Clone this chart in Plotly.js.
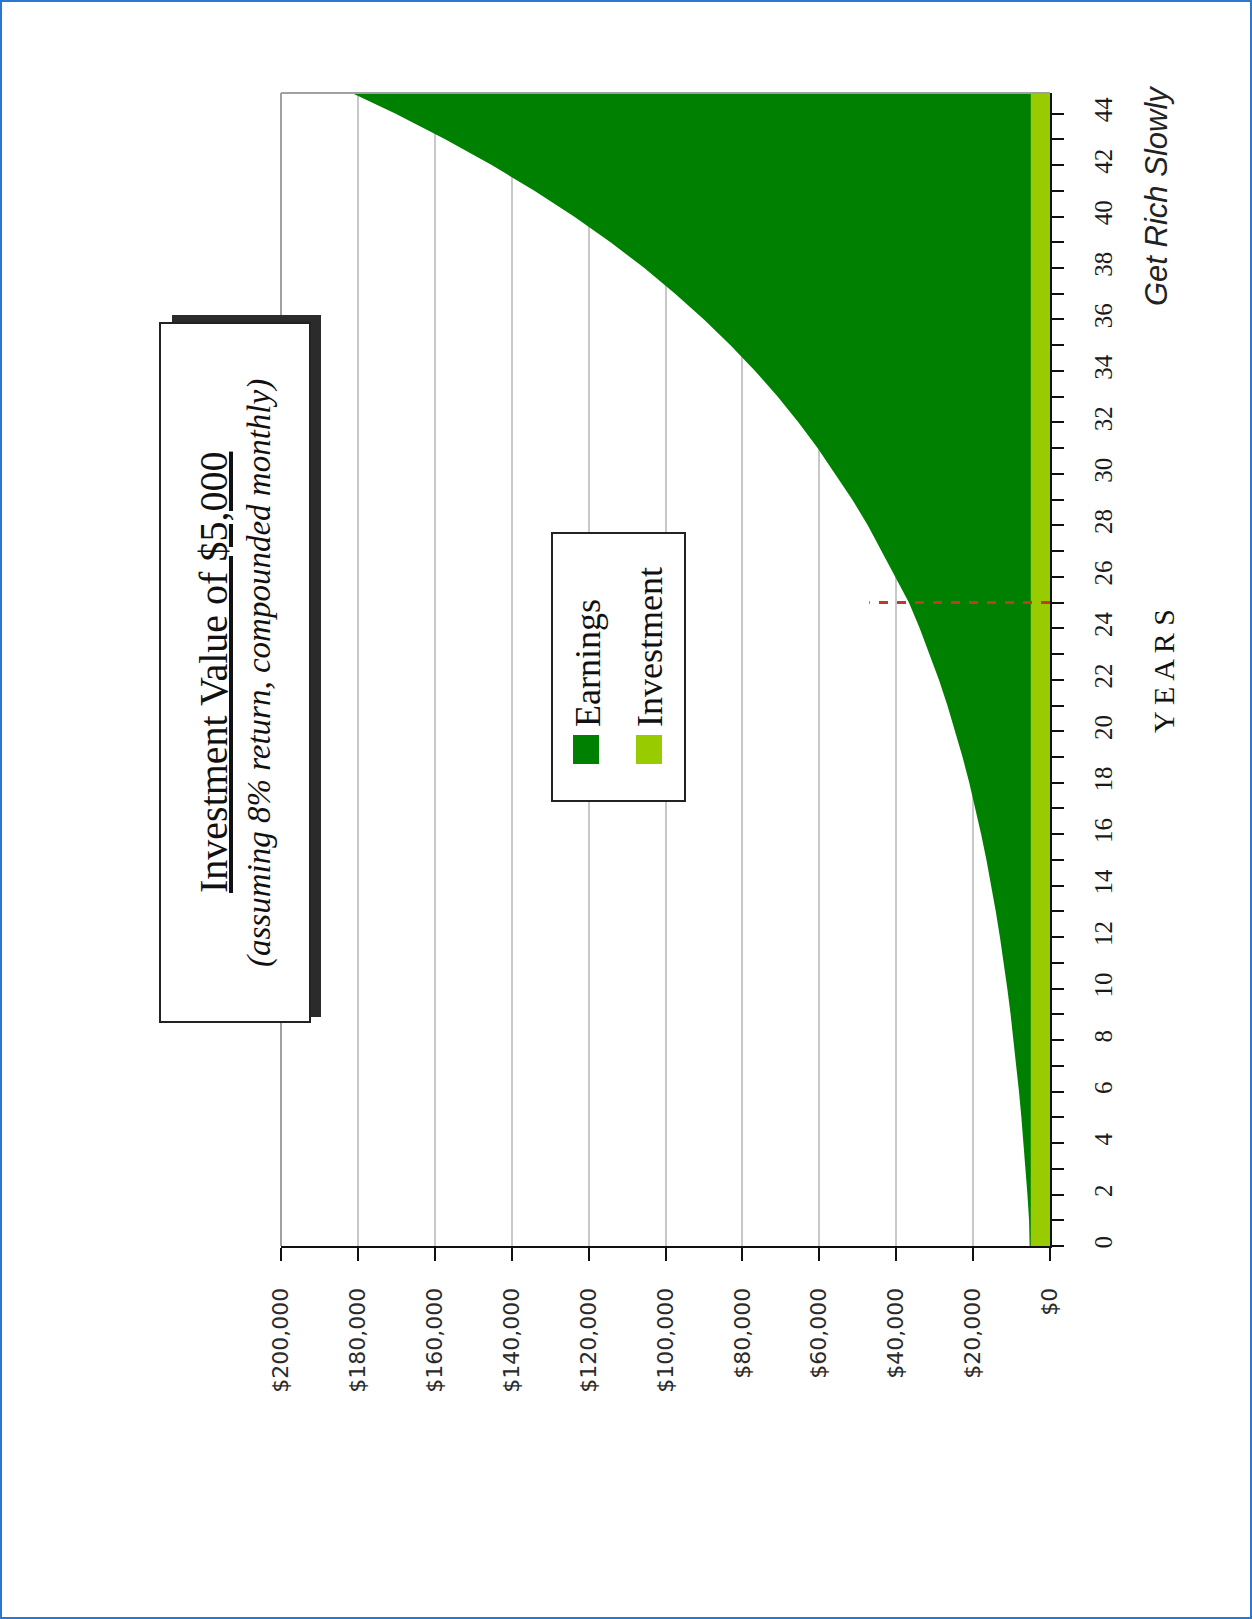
<!DOCTYPE html>
<html>
<head>
<meta charset="utf-8">
<script src="https://cdn.plot.ly/plotly-3.0.1.min.js"></script>
<style>
  html, body { margin: 0; padding: 0; background: #ffffff; }
  #chart { width: 1252px; height: 1619px; }
</style>
</head>
<body>
<div id="chart"></div>
<script>
// ---- data ----
const years = [0,1,2,3,4,5,6,7,8,9,10,11,12,13,14,15,16,17,18,19,20,21,22,23,24,25,26,27,28,29,30,31,32,33,34,35,36,37,38,39,40,41,42,43,44,45];
const totalValue = [5300,5450,5870,6350,6880,7450,8070,8740,9460,10250,11100,12020,13020,14100,15270,16530,17910,19390,21000,22750,24630,26680,28890,31290,33890,36700,40300,43700,47400,51400,55800,60400,65400,70800,76700,83100,90000,97500,105500,114300,123800,134100,145200,157300,170300,184400];
const investment = [5000,5000,5000,5000,5000,5000,5000,5000,5000,5000,5000,5000,5000,5000,5000,5000,5000,5000,5000,5000,5000,5000,5000,5000,5000,5000,5000,5000,5000,5000,5000,5000,5000,5000,5000,5000,5000,5000,5000,5000,5000,5000,5000,5000,5000,5000];
const seriesNames = ["Earnings", "Investment"];
const valueTicks = [0,20000,40000,60000,80000,100000,120000,140000,160000,180000,200000];
const valueTickLabels = ["$0","$20,000","$40,000","$60,000","$80,000","$100,000","$120,000","$140,000","$160,000","$180,000","$200,000"];
const yearTicks = [0,1,2,3,4,5,6,7,8,9,10,11,12,13,14,15,16,17,18,19,20,21,22,23,24,25,26,27,28,29,30,31,32,33,34,35,36,37,38,39,40,41,42,43,44];
const yearTickLabels = ["0","","2","","4","","6","","8","","10","","12","","14","","16","","18","","20","","22","","24","","26","","28","","30","","32","","34","","36","","38","","40","","42","","44"];
const markerYear = 25;
const markerValue = 47000;
const titleText = "Investment Value of $5,000";
const subtitleText = "(assuming 8% return, compounded monthly)";
const yearsTitle = "Y E A R S";
const creditText = "Get Rich Slowly";

// ---- layout helpers (pixel -> paper) ----
const W = 1252, H = 1619;
const L = 281, R = 1050, T = 93, B = 1246;
const px = X => (X - L) / (R - L);
const py = Y => (B - Y) / (B - T);

const colors = { earnings: "#008000", investment: "#99cc00" };

const traces = [
  { x: totalValue, y: years, name: seriesNames[0], type: "scatter", mode: "lines",
    line: { width: 0, color: colors.earnings }, fill: "tozerox", fillcolor: colors.earnings,
    showlegend: false, hoverinfo: "skip" },
  { x: investment, y: years, name: seriesNames[1], type: "scatter", mode: "lines",
    line: { width: 0, color: colors.investment }, fill: "tozerox", fillcolor: colors.investment,
    showlegend: false, hoverinfo: "skip" }
];

const shapes = [
  // plot border top/left (gray)
  { type: "line", xref: "paper", yref: "paper", x0: 0, x1: 1, y0: 1, y1: 1, line: { color: "#a0a0a0", width: 2 } },
  { type: "line", xref: "paper", yref: "paper", x0: 0, x1: 0, y0: 0, y1: 1, line: { color: "#a0a0a0", width: 2 } },
  // dashed marker
  { type: "line", xref: "x", yref: "y", x0: 0, x1: markerValue, y0: markerYear, y1: markerYear,
    line: { color: "#c0392b", width: 3, dash: "dash" } },
  // title box shadow + box
  { type: "rect", xref: "paper", yref: "paper", x0: px(172), x1: px(321), y0: py(1017), y1: py(315),
    fillcolor: "#2b2b2b", line: { width: 0 } },
  { type: "rect", xref: "paper", yref: "paper", x0: px(160), x1: px(310), y0: py(1022), y1: py(323),
    fillcolor: "#ffffff", line: { color: "#222222", width: 2 } },
  // legend box
  { type: "rect", xref: "paper", yref: "paper", x0: px(552), x1: px(685), y0: py(801), y1: py(533),
    fillcolor: "#ffffff", line: { color: "#222222", width: 2 } },
  { type: "rect", xref: "paper", yref: "paper", x0: px(573), x1: px(599), y0: py(764), y1: py(735),
    fillcolor: colors.earnings, line: { width: 0 } },
  { type: "rect", xref: "paper", yref: "paper", x0: px(636), x1: px(662), y0: py(764), y1: py(735),
    fillcolor: colors.investment, line: { width: 0 } },
  // outer blue frame
  { type: "rect", xref: "paper", yref: "paper", x0: px(1), x1: px(1251), y0: py(1618), y1: py(1),
    fillcolor: "rgba(0,0,0,0)", line: { color: "#2a78cf", width: 2 } }
];

const serif = "Liberation Serif, Times New Roman, serif";
const annotations = [
  { text: titleText, xref: "paper", yref: "paper", x: px(213), y: py(673), textangle: -90,
    showarrow: false, xanchor: "center", yanchor: "middle",
    font: { family: serif, size: 40, color: "#111111", lineposition: "under" } },
  { text: "<i>" + subtitleText + "</i>", xref: "paper", yref: "paper", x: px(259), y: py(673), textangle: -90,
    showarrow: false, xanchor: "center", yanchor: "middle",
    font: { family: serif, size: 33, color: "#111111" } },
  { text: seriesNames[0], xref: "paper", yref: "paper", x: px(588), y: py(729), textangle: -90,
    showarrow: false, xanchor: "center", yanchor: "bottom",
    font: { family: serif, size: 36, color: "#111111" } },
  { text: seriesNames[1], xref: "paper", yref: "paper", x: px(650), y: py(729), textangle: -90,
    showarrow: false, xanchor: "center", yanchor: "bottom",
    font: { family: serif, size: 36, color: "#111111" } },
  { text: yearsTitle, xref: "paper", yref: "paper", x: px(1163), y: py(671), textangle: -90,
    showarrow: false, xanchor: "center", yanchor: "middle",
    font: { family: serif, size: 30, color: "#111111" } },
  { text: "<i>" + creditText + "</i>", xref: "paper", yref: "paper", x: px(1156), y: py(196), textangle: -90,
    showarrow: false, xanchor: "center", yanchor: "middle",
    font: { family: "Liberation Sans, Arial, sans-serif", size: 31, color: "#222222" } }
];

const layout = {
  width: W, height: H,
  margin: { l: L, r: W - R, t: T, b: H - B, pad: 0 },
  paper_bgcolor: "#ffffff", plot_bgcolor: "#ffffff",
  showlegend: false,
  xaxis: {
    range: [200000, 0], autorange: false, fixedrange: true,
    tickmode: "array", tickvals: valueTicks, ticktext: valueTickLabels, tickangle: -90,
    ticks: "outside", ticklen: 13, tickwidth: 2, tickcolor: "#111111",
    ticklabelstandoff: 18,
    tickfont: { family: "DejaVu Sans, Verdana, sans-serif", size: 22, color: "#2a2a2a" },
    showgrid: true, gridcolor: "#c8c8c8", gridwidth: 2,
    showline: true, linecolor: "#111111", linewidth: 2, zeroline: false
  },
  yaxis: {
    side: "right", range: [0, 44.8], autorange: false, fixedrange: true,
    tickmode: "array", tickvals: yearTicks, ticktext: yearTickLabels, tickangle: -90,
    ticks: "outside", ticklen: 12, tickwidth: 2, tickcolor: "#111111",
    ticklabelstandoff: 18,
    tickfont: { family: serif, size: 25, color: "#1a1a1a" },
    showgrid: false, showline: true, linecolor: "#111111", linewidth: 2, zeroline: false
  },
  shapes: shapes,
  annotations: annotations
};

Plotly.newPlot("chart", traces, layout, { staticPlot: true, displayModeBar: false });
</script>
</body>
</html>
